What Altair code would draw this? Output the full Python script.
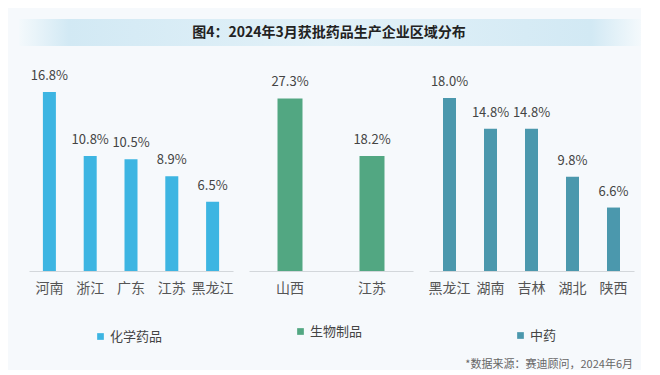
import altair as alt
import pandas as pd

title_text = "图4：2024年3月获批药品生产企业区域分布"
source_text = "*数据来源：赛迪顾问，2024年6月"

chem_name = "化学药品"
chem_regions = ["河南", "浙江", "广东", "江苏", "黑龙江"]
chem_values = [16.8, 10.8, 10.5, 8.9, 6.5]

bio_name = "生物制品"
bio_regions = ["山西", "江苏"]
bio_values = [27.3, 18.2]

tcm_name = "中药"
tcm_regions = ["黑龙江", "湖南", "吉林", "湖北", "陕西"]
tcm_values = [18.0, 14.8, 14.8, 9.8, 6.6]

FONT = "Noto Sans CJK SC"


def panel(regions, values, name, color, width, ymax, bar_size, legend_x, legend_y, extra=None):
    df = pd.DataFrame({"region": regions, "value": values, "type": [name] * len(regions)})
    df["label"] = [f"{v:.1f}%" for v in values]
    base = alt.Chart(df).encode(
        x=alt.X(
            "region:N",
            sort=regions,
            title=None,
            axis=alt.Axis(
                labelAngle=0,
                ticks=False,
                labelPadding=10,
                labelFontSize=14,
                labelFont=FONT,
                labelColor="#555555",
                domainColor="#d3d7db",
                domainWidth=1,
            ),
        ),
        y=alt.Y("value:Q", scale=alt.Scale(domain=[0, ymax]), axis=None),
    )
    bars = base.mark_bar(size=bar_size).encode(
        color=alt.Color(
            "type:N",
            scale=alt.Scale(domain=[name], range=[color]),
            legend=alt.Legend(
                title=None,
                orient="none",
                legendX=legend_x,
                legendY=legend_y,
                direction="horizontal",
                symbolType="square",
                symbolSize=45,
                symbolStrokeWidth=0,
                labelFontSize=13,
                labelFont=FONT,
                labelColor="#444444",
                labelOffset=3,
                padding=0,
            ),
        )
    )
    labels = base.mark_text(
        baseline="bottom", dy=-9, fontSize=13, color="#444444", font=FONT
    ).encode(text="label:N")
    layers = [bars, labels]
    if extra is not None:
        layers.append(extra)
    return alt.layer(*layers).properties(width=width, height=200)


source_df = pd.DataFrame({"t": [source_text]})
source_mark = alt.Chart(source_df).mark_text(
    align="right", baseline="middle", fontSize=11, color="#666666", font=FONT
).encode(text="t:N", x=alt.value(204), y=alt.value(294))

p1 = panel(chem_regions, chem_values, chem_name, "#3db5e2", 204, 18.78, 13, 65, 259)
p2 = panel(bio_regions, bio_values, bio_name, "#52a782", 164, 31.65, 25, 45, 254)
p3 = panel(tcm_regions, tcm_values, tcm_name, "#4b98ad", 205, 20.8, 13, 85, 258, extra=source_mark)

panels = alt.hconcat(p1, p2, p3, spacing=16, bounds="flush").resolve_scale(
    x="independent", y="independent", color="independent"
).resolve_legend(color="independent")

header_df = pd.DataFrame({"t": [title_text]})
band = alt.Chart(header_df).mark_rect(
    color=alt.LinearGradient(
        gradient="linear",
        stops=[
            alt.GradientStop(color="#f4f9fc", offset=0),
            alt.GradientStop(color="#d2e9f4", offset=0.08),
            alt.GradientStop(color="#e2f1f8", offset=0.5),
            alt.GradientStop(color="#d2e9f4", offset=0.92),
            alt.GradientStop(color="#f4f9fc", offset=1),
        ],
        x1=0, x2=1, y1=0, y2=0,
    )
).encode(x=alt.value(-10), x2=alt.value(612), y=alt.value(11), y2=alt.value(38))
htext = alt.Chart(header_df).mark_text(
    font=FONT, fontSize=14, fontWeight="bold", color="#222222", baseline="middle"
).encode(text="t:N", x=alt.value(300), y=alt.value(25))
header = alt.layer(band, htext).properties(width=605, height=63)

chart = alt.vconcat(header, panels, spacing=0, bounds="flush").properties(
    background="#f6f9fc",
    padding={"left": 11, "top": 0, "right": 0, "bottom": 0},
).configure(font=FONT).configure_view(stroke="transparent", strokeWidth=0)

chart.save("out.html", embed_options={"renderer": "svg", "actions": False})
